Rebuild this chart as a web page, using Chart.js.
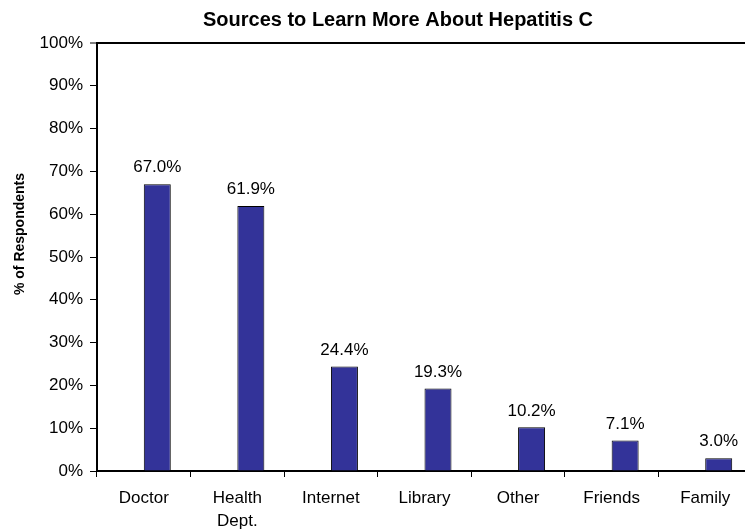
<!DOCTYPE html>
<html>
<head>
<meta charset="utf-8">
<script src="https://cdn.jsdelivr.net/npm/chart.js@4/dist/chart.umd.min.js"></script>
<style>
  html, body { margin: 0; padding: 0; background: #fff; overflow: hidden; }
  #wrap { width: 745px; height: 531px; overflow: hidden; }
  #box { width: 752px; height: 531px; }
</style>
</head>
<body>
<div id="wrap"><div id="box"><canvas id="c"></canvas></div></div>
<script>
// 데이터
const chartTitle = "Sources to Learn More About Hepatitis C";
const yTitle = "% of Respondents";
const sources = ["Doctor", ["Health", "Dept."], "Internet", "Library", "Other", "Friends", "Family"];
const percents = [67.0, 61.9, 24.4, 19.3, 10.2, 7.1, 3.0];
const spacer = [null, null, null, null, null, null, null]; // 빈 계열 (막대를 오른쪽으로 밀기)

const FONT = "'Liberation Sans', Arial, sans-serif";

// 제목 + 세로축 제목 (Excel 배치 그대로)
const titles = {
  id: "titles",
  afterDraw(chart) {
    const ctx = chart.ctx;
    ctx.save();
    ctx.fillStyle = "#000";
    ctx.textAlign = "center";
    ctx.textBaseline = "middle";
    ctx.font = "bold 20px " + FONT;
    ctx.fillText(chartTitle, 398, 20);
    ctx.translate(20, 234);
    ctx.rotate(-Math.PI / 2);
    ctx.font = "bold 14px " + FONT;
    ctx.fillText(yTitle, 0, 0);
    ctx.restore();
  }
};

// 막대 위 값 라벨
const valueLabels = {
  id: "valueLabels",
  afterDatasetsDraw(chart) {
    const ctx = chart.ctx;
    const meta = chart.getDatasetMeta(1);
    ctx.save();
    ctx.font = "17px " + FONT;
    ctx.fillStyle = "#000";
    ctx.textAlign = "center";
    ctx.textBaseline = "bottom";
    meta.data.forEach((bar, i) => {
      ctx.fillText(percents[i].toFixed(1) + "%", bar.x, bar.y - 8);
    });
    ctx.restore();
  }
};

new Chart(document.getElementById("c").getContext("2d"), {
  type: "bar",
  data: {
    labels: sources,
    datasets: [
      { label: "", data: spacer, backgroundColor: "rgba(0,0,0,0)" },
      { label: yTitle, data: percents,
        backgroundColor: "#333399", borderColor: "#000", borderWidth: 1 }
    ]
  },
  options: {
    responsive: true, maintainAspectRatio: false, animation: false,
    categoryPercentage: 0.577, barPercentage: 1,
    layout: { padding: { top: 43, left: 0, right: 0, bottom: 0 } },
    plugins: {
      legend: { display: false },
      tooltip: { enabled: false },
      title: { display: false }
    },
    scales: {
      x: {
        afterFit: s => { s.height = 60; },
        border: { color: "#000", width: 2 },
        grid: { drawOnChartArea: false, tickColor: "#000", tickLength: 6, offset: true },
        ticks: { color: "#000", font: { family: FONT, size: 17, lineHeight: 1.35 }, padding: 10, maxRotation: 0 }
      },
      y: {
        min: 0, max: 100,
        afterFit: s => { s.width = 97; },
        border: { color: "#000", width: 2 },
        grid: {
          color: c => c.tick && c.tick.value === 100 ? "#000" : "rgba(0,0,0,0)",
          lineWidth: c => c.tick && c.tick.value === 100 ? 2 : 1,
          tickColor: "#000", tickLength: 7, tickWidth: 1
        },
        ticks: { stepSize: 10, color: "#000", padding: 7,
                 font: { family: FONT, size: 17 }, callback: v => v + "%" }
      }
    }
  },
  plugins: [valueLabels, titles]
});
</script>
</body>
</html>
